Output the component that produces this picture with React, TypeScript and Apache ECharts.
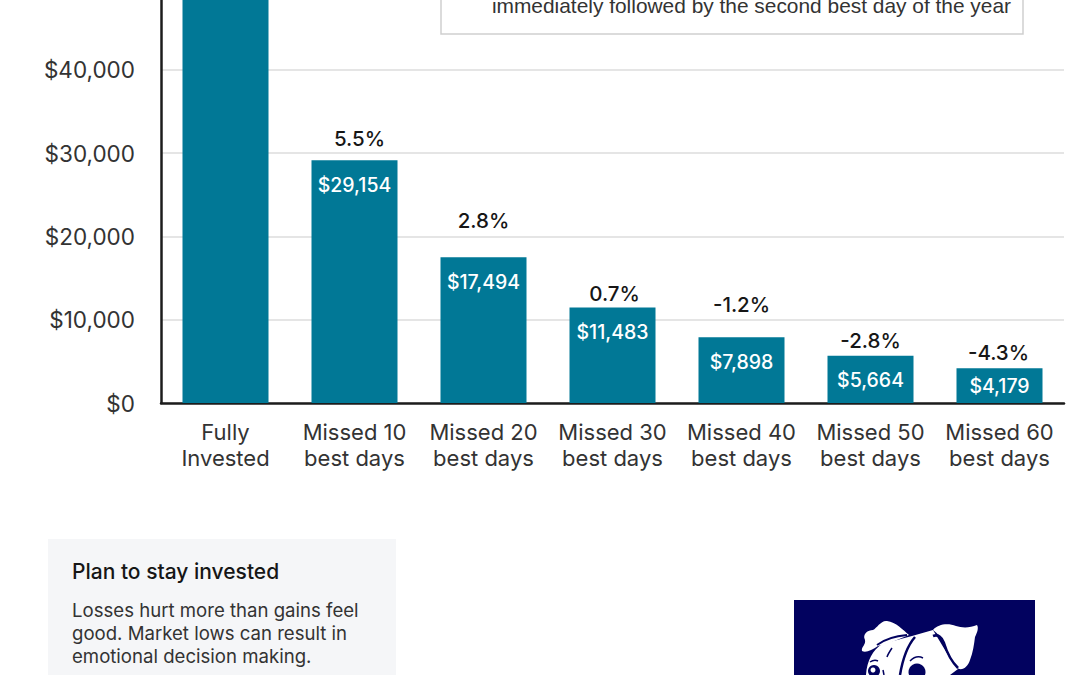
import React, { useEffect, useRef } from "react";
import * as echarts from "echarts";

const categories = [
  "Fully\nInvested",
  "Missed 10\nbest days",
  "Missed 20\nbest days",
  "Missed 30\nbest days",
  "Missed 40\nbest days",
  "Missed 50\nbest days",
  "Missed 60\nbest days",
];
// The first bar runs off the top of the picture; its value is an estimate.
const endingValues = [63000, 29154, 17494, 11483, 7898, 5664, 4179];
const returnLabels = ["", "5.5%", "2.8%", "0.7%", "-1.2%", "-2.8%", "-4.3%"];
const returnLabelGaps = [0, 11, 26, 3, 22, 5, 5];
const returnLabelShifts = [0, 5, 0, 2, 0, 0, -1];
const yAxisTop = 48408;
const yTickStep = 10000;

const boxLine = "immediately followed by the second best day of the year";
const panelTitle = "Plan to stay invested";
const panelLines = [
  "Losses hurt more than gains feel",
  "good. Market lows can result in",
  "emotional decision making.",
];

const SANS = "Inter, 'Noto Sans', sans-serif";
const TEAL = "#017896";
const NAVY = "#02025f";

const shape = (name: string, d: string) =>
  echarts.graphic.registerShape(name, echarts.graphic.extendPath(d as any, {}) as any);

shape("dogEarL", "M862 651 C861 647 866 645 865 640 C862 634 868 630 873 630 C877 628 881 620 887 621 C896 622 903 630 909 635 L892 642 L878 646 C872 650 866 653 862 651 Z");
shape("dogEarR", "M933 630 C938 624 948 623 956 626 C962 628 970 628 977 625 C979 628 977 633 975 637 C974 645 973 652 970 660 C968 666 964 670 959 669 C952 665 948 656 945 646 C942 638 938 634 933 630 Z");
shape("dogHead", "M866 675 C867 660 873 650 882 644 L912 636 L933 630 L948 655 L958 669 L950 675 Z");
shape("dogCreaseA", "M877 645 C885 639 895 636 907 635");
shape("dogCreaseB", "M915 637 C908 645 903 657 900 675");
shape("dogCreaseC", "M933 636 C938 634 942 637 944 643 C947 653 951 661 958 668");
shape("dogCreaseD", "M910 661 C914 657 919 656 923 658");
shape("dogCreaseE", "M870 662 C873 660 876 660 878 661");
shape("dogCreaseF", "M892 648 C890 651 888 654 887 657");
shape("dogCreaseG", "M883 670 L884 675");

const crease = (type: string, lineWidth: number) => ({
  type,
  x: 0,
  y: 0,
  style: { fill: "none", stroke: NAVY, lineWidth },
});
const dogFill = (type: string) => ({ type, x: 0, y: 0, style: { fill: "#ffffff" } });

export default function App() {
  const ref = useRef<HTMLDivElement>(null);

  useEffect(() => {
    document.body.style.margin = "0";
    const chart = echarts.init(ref.current!, undefined, { renderer: "svg" });
    chart.setOption({
      animation: false,
      backgroundColor: "#ffffff",
      grid: { left: 161, right: 16, top: 0, bottom: 272, containLabel: false },
      xAxis: {
        type: "category",
        data: categories,
        axisTick: { show: false },
        axisLine: { lineStyle: { color: "#1c1c1c", width: 2.5 } },
        axisLabel: {
          color: "#333333",
          fontFamily: SANS,
          fontSize: 22,
          lineHeight: 26,
          margin: 16,
          interval: 0,
        },
      },
      yAxis: {
        type: "value",
        min: 0,
        max: yAxisTop,
        interval: yTickStep,
        axisTick: { show: false },
        axisLine: { show: true, lineStyle: { color: "#1c1c1c", width: 2.5 } },
        splitLine: { showMaxLine: false, lineStyle: { color: "#dcdcdc", width: 1.5 } },
        axisLabel: {
          color: "#333333",
          fontFamily: SANS,
          fontSize: 22.5,
          margin: 26,
          showMaxLabel: false,
          formatter: (v: number) => "$" + v.toLocaleString("en-US"),
        },
      },
      series: [
        {
          type: "bar",
          barWidth: 86,
          z: 2,
          itemStyle: { color: TEAL },
          data: endingValues.map((value, i) => ({
            value,
            label: {
              show: i > 0,
              position: value < 5000 ? "inside" : "insideTop",
              distance: 14.5,
              color: "#ffffff",
              fontFamily: SANS,
              fontSize: 19.5,
              fontWeight: 500,
              formatter: "$" + value.toLocaleString("en-US"),
            },
          })),
        },
        {
          type: "bar",
          barWidth: 86,
          barGap: "-100%",
          z: 1,
          itemStyle: { color: "rgba(0,0,0,0)" },
          data: endingValues.map((value, i) => ({
            value,
            label: {
              show: i > 0,
              position: "top",
              distance: returnLabelGaps[i],
              offset: [returnLabelShifts[i], 0],
              color: "#161616",
              fontFamily: SANS,
              fontSize: 20.5,
              fontWeight: 500,
              formatter: returnLabels[i],
            },
          })),
        },
      ],
      graphic: [
        {
          type: "rect",
          silent: true,
          shape: { x: 441, y: -10, width: 582, height: 44 },
          style: { fill: "#ffffff", stroke: "#cfcfcf", lineWidth: 1.5 },
        },
        {
          type: "text",
          style: {
            x: 1011,
            y: 5,
            text: boxLine,
            align: "right",
            verticalAlign: "middle",
            fill: "#333333",
            font: "20.9px 'Liberation Sans', sans-serif",
          },
        },
        {
          type: "rect",
          shape: { x: 48, y: 539, width: 348, height: 136 },
          style: { fill: "#f5f6f8" },
        },
        {
          type: "text",
          style: {
            x: 72,
            y: 571,
            text: panelTitle,
            verticalAlign: "middle",
            fill: "#161616",
            font: `500 21px ${SANS}`,
          },
        },
        ...panelLines.map((text, i) => ({
          type: "text",
          style: {
            x: 72,
            y: 610 + i * 23,
            text,
            verticalAlign: "middle",
            fill: "#333333",
            font: `18.6px ${SANS}`,
          },
        })),
        {
          type: "rect",
          shape: { x: 794, y: 600, width: 241, height: 75 },
          style: { fill: NAVY },
        },
        dogFill("dogHead"),
        dogFill("dogEarL"),
        dogFill("dogEarR"),
        crease("dogCreaseA", 2),
        crease("dogCreaseB", 2.5),
        crease("dogCreaseC", 2.5),
        crease("dogCreaseD", 1.5),
        crease("dogCreaseE", 1.5),
        crease("dogCreaseF", 1.5),
        crease("dogCreaseG", 1.5),
        { type: "circle", shape: { cx: 874, cy: 671, r: 6 }, style: { fill: NAVY } },
        { type: "circle", shape: { cx: 873, cy: 670, r: 2.5 }, style: { fill: "#ffffff" } },
        { type: "circle", shape: { cx: 917, cy: 672, r: 8.5 }, style: { fill: NAVY } },
      ],
    });
    return () => chart.dispose();
  }, []);

  return <div ref={ref} style={{ width: 1080, height: 675 }} />;
}
